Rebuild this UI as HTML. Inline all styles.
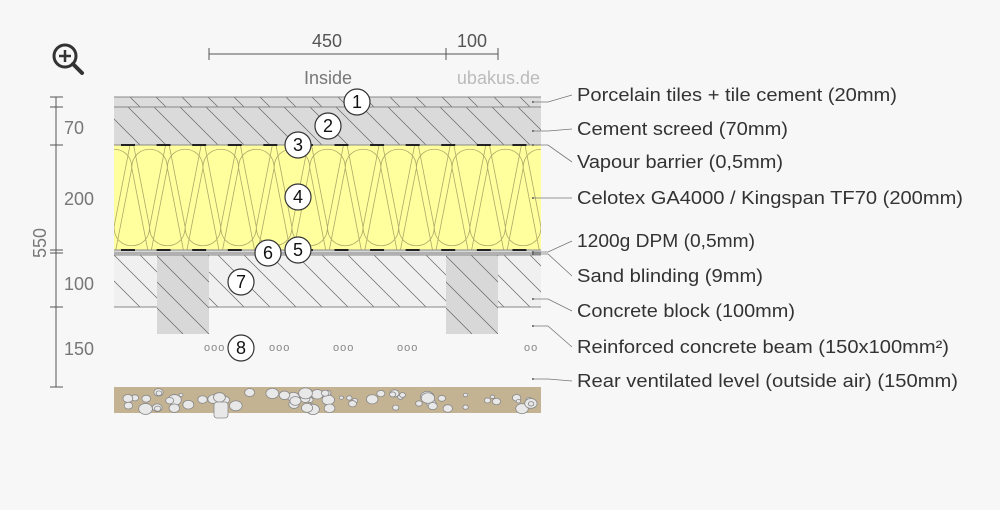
<!DOCTYPE html>
<html><head><meta charset="utf-8"><style>
html,body{margin:0;padding:0;background:#f7f7f7;}
svg{display:block;font-family:"Liberation Sans",sans-serif;}
</style></head><body>
<svg id="s" width="1000" height="510" viewBox="0 0 1000 510" xmlns="http://www.w3.org/2000/svg">
<defs>
<clipPath id="c1"><rect x="114" y="97" width="427" height="10"/></clipPath>
<clipPath id="c2"><rect x="114" y="107" width="427" height="38"/></clipPath>
<clipPath id="c4"><rect x="114" y="145" width="427" height="105"/></clipPath>
<clipPath id="c7"><path d="M114 255H157V307H114ZM209 255H446V307H209ZM498 255H541V307H498Z"/></clipPath>
<clipPath id="cb1"><rect x="157" y="255" width="52" height="79"/></clipPath>
<clipPath id="cb2"><rect x="446" y="255" width="52" height="79"/></clipPath>
</defs>
<rect width="1000" height="510" fill="#f7f7f7"/>
<circle cx="65" cy="56" r="11" fill="none" stroke="#333" stroke-width="3"/>
<path d="M59 56h12M65 50v12" stroke="#333" stroke-width="2.5"/>
<path d="M73 64l9 9" stroke="#333" stroke-width="4" stroke-linecap="round"/>
<g stroke="#555" stroke-width="1"><path d="M209 54H498M209 48v12M446 48v12M498 48v12"/></g>
<text x="327" y="47" font-size="18" fill="#555" text-anchor="middle">450</text>
<text x="472" y="47" font-size="18" fill="#555" text-anchor="middle">100</text>
<text x="328" y="84" font-size="18" fill="#777" text-anchor="middle">Inside</text>
<text x="540" y="84" font-size="18" fill="#bbb" text-anchor="end">ubakus.de</text>
<g stroke="#555" stroke-width="1"><path d="M56 97V387M50 97h13M50 107h13M50 145h13M50 250h13M50 253h13M50 307h13M50 387h13"/></g>
<g font-size="18" fill="#777">
<text x="64" y="134">70</text><text x="64" y="205">200</text><text x="64" y="290">100</text><text x="64" y="355">150</text>
<text transform="translate(46,258) rotate(-90)" font-size="18">550</text>
</g>
<rect x="114" y="97" width="427" height="10" fill="#dcdcdc"/>
<rect x="114" y="107" width="427" height="38" fill="#dadada"/>
<rect x="114" y="145" width="427" height="105" fill="#ffff9e"/>
<rect x="114" y="250" width="427" height="5" fill="#d8d8d8"/>
<rect x="114" y="255" width="427" height="52" fill="#f0f0f0"/>
<rect x="157" y="255" width="52" height="79" fill="#d8d8d8"/>
<rect x="446" y="255" width="52" height="79" fill="#d8d8d8"/>
<rect x="114" y="387" width="427" height="26" fill="#c4b393"/>
<g id="hatch" stroke="#666" stroke-width="0.7" fill="none"></g>
<g id="ins" stroke="#b0a868" stroke-width="0.8" fill="none" clip-path="url(#c4)"></g>
<g stroke="#888" stroke-width="1"><path d="M114 97H541M114 107H541M114 145H541M114 250H541M114 253H541M114 255H541M114 307H157M209 307H446M498 307H541"/></g>
<g id="vb" stroke="#222" stroke-width="2"></g>
<g id="peb" stroke="#888" stroke-width="0.8" fill="#e8e8e8"></g>
<g font-size="11" fill="#888" letter-spacing="1"><text x="204" y="351">ooo</text><text x="269" y="351">ooo</text><text x="333" y="351">ooo</text><text x="397" y="351">ooo</text><text x="524" y="351">oo</text></g>
<g id="nums" font-size="18" text-anchor="middle"></g>
<g id="lead" stroke="#777" stroke-width="0.8" fill="none"></g>
<g font-size="18" fill="#333" lengthAdjust="spacingAndGlyphs">
<text x="577" y="101" textLength="320" lengthAdjust="spacingAndGlyphs">Porcelain tiles + tile cement (20mm)</text>
<text x="577" y="135" textLength="211" lengthAdjust="spacingAndGlyphs">Cement screed (70mm)</text>
<text x="577" y="168" textLength="206" lengthAdjust="spacingAndGlyphs">Vapour barrier (0,5mm)</text>
<text x="577" y="204" textLength="386" lengthAdjust="spacingAndGlyphs">Celotex GA4000 / Kingspan TF70 (200mm)</text>
<text x="577" y="247" textLength="178" lengthAdjust="spacingAndGlyphs">1200g DPM (0,5mm)</text>
<text x="577" y="282" textLength="186" lengthAdjust="spacingAndGlyphs">Sand blinding (9mm)</text>
<text x="577" y="317" textLength="218" lengthAdjust="spacingAndGlyphs">Concrete block (100mm)</text>
<text x="577" y="353" textLength="372" lengthAdjust="spacingAndGlyphs">Reinforced concrete beam (150x100mm²)</text>
<text x="577" y="387" textLength="381" lengthAdjust="spacingAndGlyphs">Rear ventilated level (outside air) (150mm)</text>
</g>
</svg>
<script>
var NS="http://www.w3.org/2000/svg";
function el(p,t,a){var e=document.createElementNS(NS,t);for(var k in a)e.setAttribute(k,a[k]);p.appendChild(e);return e;}
var h=document.getElementById('hatch');
function hat(clip,y0,y1,step,x0,x1){var g=el(h,'g',{'clip-path':'url(#'+clip+')'});var d='';var H=y1-y0;for(var x=x0-H;x<x1+H;x+=step){d+='M'+x+' '+y0+'L'+(x+H)+' '+y1;}el(g,'path',{d:d});}
hat('c1',97,107,26,114,541);hat('c2',107,145,26,114,541);hat('c7',255,307,26,114,541);hat('cb1',255,334,26,157,209);hat('cb2',255,334,26,446,498);
var ins=document.getElementById('ins');var w=427/12;var d='';
for(var i=0;i<13;i++){var x=114+i*w-w/2;
d+='M'+(x+w*0.45)+' 250L'+x+' 168C'+x+' 143 '+(x+w)+' 143 '+(x+w)+' 168L'+(x+w*0.55)+' 250';
var xb=x+w/2;d+='M'+(xb+w*0.45)+' 145L'+xb+' 227C'+xb+' 252 '+(xb+w)+' 252 '+(xb+w)+' 227L'+(xb+w*0.55)+' 145';}
el(ins,'path',{d:d});
var vb=document.getElementById('vb');d='';
for(var i=0;i<12;i++){var x=114+i*w+7;d+='M'+x+' 145h14M'+x+' 250h14';}el(vb,'path',{d:d});
var pb=document.getElementById('peb');var seed=7;function r(){seed=(seed*9301+49297)%233280;return seed/233280;}
for(var i=0;i<70;i++){var cx=125+r()*410,cy=392+r()*18,rr=2+r()*5;el(pb,'ellipse',{cx:cx,cy:cy,rx:rr,ry:rr*0.8});}
el(pb,'rect',{x:214,y:402,width:14,height:16,rx:3});
var nums=document.getElementById('nums');
[[357,102,1],[328,126,2],[298,145,3],[298,197,4],[298,250,5],[268,253,6],[241,282,7],[241,348,8]].forEach(function(n){
el(nums,'circle',{cx:n[0],cy:n[1],r:13,fill:'#fff',stroke:'#333','stroke-width':1.2});
var t=el(nums,'text',{x:n[0],y:n[1]+6,fill:'#111'});t.textContent=n[2];});
var ld=document.getElementById('lead');
[[102,95],[131,129],[145,162],[198,198],[252,241],[254,276],[299,311],[326,347],[379,381]].forEach(function(p){
el(ld,'circle',{cx:533,cy:p[0],r:1,fill:'#555',stroke:'none'});
el(ld,'path',{d:'M533 '+p[0]+'H548L572 '+p[1]});});
</script>
</body></html>
